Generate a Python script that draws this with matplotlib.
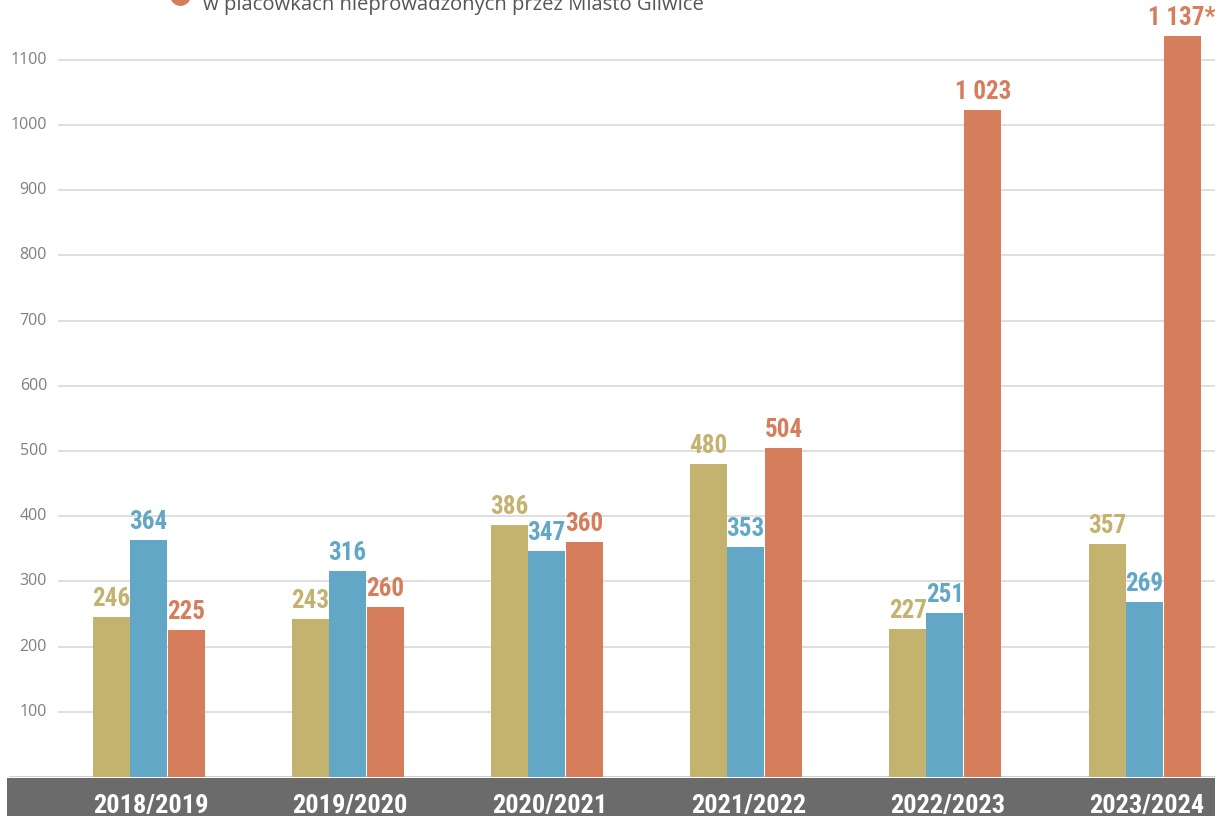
import matplotlib
matplotlib.use("Agg")
import matplotlib.pyplot as plt
from matplotlib import font_manager as fm
from matplotlib.patches import Rectangle
import numpy as np

# ---- data ----
categories = ["2018/2019", "2019/2020", "2020/2021", "2021/2022", "2022/2023", "2023/2024"]
series_gold = [246, 243, 386, 480, 227, 357]
series_blue = [364, 316, 347, 353, 251, 269]
series_orange = [225, 260, 360, 504, 1023, 1137]
labels_gold = ["246", "243", "386", "480", "227", "357"]
labels_blue = ["364", "316", "347", "353", "251", "269"]
labels_orange = ["225", "260", "360", "504", "1 023", "1 137*"]
yticks = [100, 200, 300, 400, 500, 600, 700, 800, 900, 1000, 1100]
legend_text = "w placówkach nieprowadzonych przez Miasto Gliwice"

GOLD = "#c4b26f"
BLUE = "#62a8c6"
ORANGE = "#d67e5c"


def pick(cands, default="DejaVu Sans"):
    for c in cands:
        try:
            fm.findfont(fm.FontProperties(family=c), fallback_to_default=False)
            return c
        except Exception:
            pass
    return default


COND = pick(["Roboto Condensed", "Liberation Sans Narrow", "DejaVu Sans Condensed",
             "Open Sans Condensed", "Arial Narrow"])
REG = pick(["Open Sans", "Noto Sans", "Lato"])

W, H = 1215, 816
fig = plt.figure(figsize=(W / 100, H / 100), dpi=100)
fig.patch.set_facecolor("white")

base_px = 777
ax = fig.add_axes([0, (H - base_px) / H, 1, base_px / H])
px_per_unit = 0.652
ax.set_ylim(0, base_px / px_per_unit)
spacing = 199.2
first = 148.0
xmin = -first / spacing
ax.set_xlim(xmin, xmin + W / spacing)
ax.axis("off")

# gridlines
for v in yticks:
    ax.axhline(v, xmin=59 / W, xmax=1, color="#dcdcdc", lw=1.3, zorder=0)
    ax.text(47 / spacing + xmin, v, str(v), ha="right", va="center", fontsize=11.5,
            color="#7f7f7f", family=REG)
# baseline
ax.axhline(0, xmin=10 / W, xmax=1, color="#cfcfcf", lw=1.5, zorder=0)

x = np.arange(len(categories))
bw = 37 / spacing
offs = [-37 / spacing, 0, 38 / spacing]
series = [(series_gold, labels_gold, GOLD), (series_blue, labels_blue, BLUE),
          (series_orange, labels_orange, ORANGE)]
for (vals, labs, col), off in zip(series, offs):
    ax.bar(x + off, vals, width=bw, color=col, zorder=2, linewidth=0)
    for xi, v, lab in zip(x, vals, labs):
        ax.text(xi + off, v + 6 / px_per_unit, lab, ha="center", va="bottom",
                fontsize=18, fontweight="bold", color=col, family=COND,
                clip_on=False)

# dark category band
fig.patches.append(Rectangle((7 / W, 0), 1 - 7 / W, (H - base_px - 1) / H,
                             transform=fig.transFigure, facecolor="#6b6b6b",
                             edgecolor="none", zorder=5))
for xi, c in zip(x, categories):
    xf = (xi - xmin) * spacing / W
    fig.text(xf + 3 / W, 3 / H, c, ha="center", va="baseline", fontsize=19,
             fontweight="bold", color="white", family=COND, zorder=6)

# partially visible legend at top
fig.text(203 / W, 1 - 10 / H, legend_text, ha="left", va="baseline", fontsize=14.6,
         color="#555555", family=REG)
fig.add_artist(plt.Line2D([180 / W], [1 + 5 / H], marker="o", markersize=14,
                          color=ORANGE, linestyle="none", transform=fig.transFigure,
                          clip_on=False))

fig.savefig("out.png", dpi=100)
